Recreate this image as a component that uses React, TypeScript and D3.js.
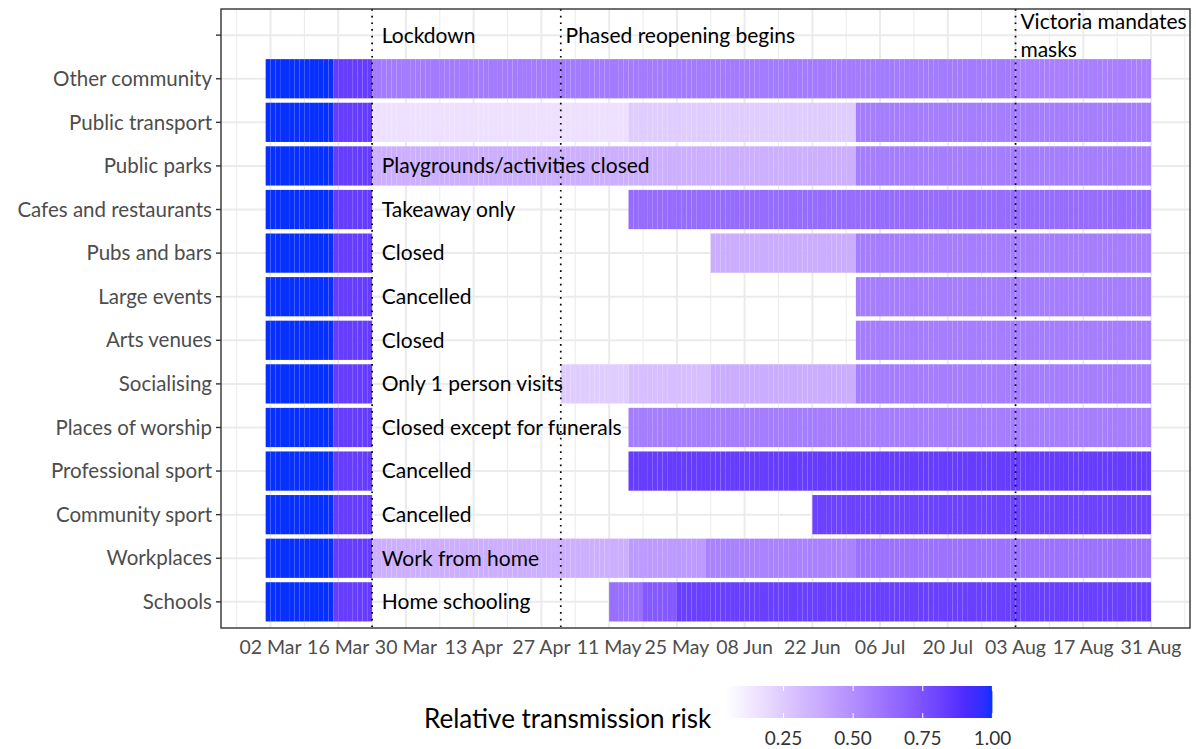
import * as d3 from "d3";

// rows, top to bottom; the blank first row holds the event labels
const categories = [
  "",
  "Other community",
  "Public transport",
  "Public parks",
  "Cafes and restaurants",
  "Pubs and bars",
  "Large events",
  "Arts venues",
  "Socialising",
  "Places of worship",
  "Professional sport",
  "Community sport",
  "Workplaces",
  "Schools"
];

type Step = [string, number | null];

// each row: date a level starts, relative transmission risk from then on (null = closed)
const otherCommunity: Step[] = [["2020-03-01", 1], ["2020-03-15", 0.83], ["2020-03-23", 0.58], ["2020-08-03", 0.56]];
const publicTransport: Step[] = [["2020-03-01", 1], ["2020-03-15", 0.83], ["2020-03-23", 0.16], ["2020-05-15", 0.24], ["2020-07-01", 0.57]];
const publicParks: Step[] = [["2020-03-01", 1], ["2020-03-15", 0.83], ["2020-03-23", 0.36], ["2020-07-01", 0.57]];
const cafes: Step[] = [["2020-03-01", 1], ["2020-03-15", 0.83], ["2020-03-23", null], ["2020-05-15", 0.64]];
const pubs: Step[] = [["2020-03-01", 1], ["2020-03-15", 0.83], ["2020-03-23", null], ["2020-06-01", 0.37], ["2020-07-01", 0.57]];
const largeEvents: Step[] = [["2020-03-01", 1], ["2020-03-15", 0.83], ["2020-03-23", null], ["2020-07-01", 0.57]];
const artsVenues: Step[] = [["2020-03-01", 1], ["2020-03-15", 0.83], ["2020-03-23", null], ["2020-07-01", 0.57]];
const socialising: Step[] = [["2020-03-01", 1], ["2020-03-15", 0.83], ["2020-03-23", null], ["2020-05-01", 0.24], ["2020-05-15", 0.3], ["2020-06-01", 0.37], ["2020-07-01", 0.57]];
const worship: Step[] = [["2020-03-01", 1], ["2020-03-15", 0.83], ["2020-03-23", null], ["2020-05-15", 0.57]];
const proSport: Step[] = [["2020-03-01", 1], ["2020-03-15", 0.83], ["2020-03-23", null], ["2020-05-15", 0.83]];
const communitySport: Step[] = [["2020-03-01", 1], ["2020-03-15", 0.83], ["2020-03-23", null], ["2020-06-22", 0.81]];
const workplaces: Step[] = [["2020-03-01", 1], ["2020-03-15", 0.83], ["2020-03-23", 0.36], ["2020-05-15", 0.45], ["2020-05-31", 0.55], ["2020-07-01", 0.62]];
const schools: Step[] = [["2020-03-01", 1], ["2020-03-15", 0.83], ["2020-03-23", null], ["2020-05-11", 0.63], ["2020-05-18", 0.72], ["2020-05-25", 0.82]];

const rowSteps: Step[][] = [
  [], otherCommunity, publicTransport, publicParks, cafes, pubs, largeEvents,
  artsVenues, socialising, worship, proSport, communitySport, workplaces, schools
];
const lastDay = "2020-08-31";

// notes written into the rows at the start of lockdown
const rowNotes = [
  "", "", "", "Playgrounds/activities closed", "Takeaway only", "Closed", "Cancelled",
  "Closed", "Only 1 person visits", "Closed except for funerals", "Cancelled",
  "Cancelled", "Work from home", "Home schooling"
];
const noteDate = "2020-03-25";

const eventDates = ["2020-03-23", "2020-05-01", "2020-08-03"];
const eventLabelDates = ["2020-03-25", "2020-05-02", "2020-08-04"];
const eventLabels = [["Lockdown"], ["Phased reopening begins"], ["Victoria mandates", "masks"]];

const tickDates = [
  "2020-03-02", "2020-03-16", "2020-03-30", "2020-04-13", "2020-04-27", "2020-05-11", "2020-05-25",
  "2020-06-08", "2020-06-22", "2020-07-06", "2020-07-20", "2020-08-03", "2020-08-17", "2020-08-31"
];

const legendMin = 0.04;
const legendTicks = [0.25, 0.5, 0.75, 1];

const W = 1196;
const H = 749;
const panel = { left: 221, right: 1190, top: 9, bottom: 628 };
const FONT = "Lato, 'Open Sans', sans-serif";

const parse = d3.utcParse("%Y-%m-%d");
const fmt = d3.utcFormat("%d %b");

export default function App() {
  const x = d3.scaleUtc()
    .domain([parse("2020-03-02")!, parse("2020-08-31")!])
    .range([270.5, 1151]);

  const y = d3.scalePoint<string>()
    .domain(categories)
    .range([panel.top, panel.bottom])
    .padding(0.6);
  const tileH = y.step() * 0.9;

  // white -> blue in Lab, with the top end a touch brighter as in the original
  const lab = d3.interpolateLab("#ffffff", "#0000ff");
  const knee = 0.9;
  const color = d3.scaleLinear<string>()
    .domain([legendMin, knee, 1])
    .range(["#ffffff", lab((knee - legendMin) / (1 - legendMin)), "#0730ff"])
    .interpolate(d3.interpolateLab);

  const legendX = d3.scaleLinear().domain([legendMin, 1]).range([725, 992.4]);
  const legendTop = 686;
  const legendH = 32;

  const majors = tickDates.map(d => parse(d)!);
  const minors = [d3.utcDay.offset(majors[0], -7), ...majors.map(d => d3.utcDay.offset(d, 7))];

  // one tile per day, like geom_tile
  const tiles: { x0: number; x1: number; y: number; fill: string; key: string }[] = [];
  rowSteps.forEach((steps, i) => {
    steps.forEach((s, j) => {
      if (s[1] === null) return;
      const start = parse(s[0])!;
      const end = parse(j + 1 < steps.length ? steps[j + 1][0] : lastDay)!;
      d3.utcDay.range(start, end).forEach(day => {
        tiles.push({
          x0: x(day),
          x1: x(d3.utcDay.offset(day, 1)),
          y: y(categories[i])!,
          fill: color(s[1] as number),
          key: `${i}-${+day}`
        });
      });
    });
  });

  const stops = d3.range(0, 1.0001, 0.025);

  return (
    <svg
      width={W}
      height={H}
      style={{ position: "absolute", left: 0, top: 0, background: "#fff" }}
      fontFamily={FONT}
    >
      <defs>
        <linearGradient id="risk" x1="0" x2="1" y1="0" y2="0">
          {stops.map(t => (
            <stop key={t} offset={t} stopColor={color(legendMin + t * (1 - legendMin))} />
          ))}
        </linearGradient>
      </defs>

      {/* grid */}
      {minors.map(d => (
        <line key={"mn" + +d} x1={x(d)} x2={x(d)} y1={panel.top} y2={panel.bottom} stroke="#ebebeb" strokeWidth={1} />
      ))}
      {majors.map(d => (
        <line key={"mj" + +d} x1={x(d)} x2={x(d)} y1={panel.top} y2={panel.bottom} stroke="#ebebeb" strokeWidth={2} />
      ))}
      {categories.map(c => (
        <line key={"h" + c} x1={panel.left} x2={panel.right} y1={y(c)} y2={y(c)} stroke="#ebebeb" strokeWidth={2} />
      ))}

      {/* tiles */}
      {tiles.map(t => (
        <rect key={t.key} x={t.x0} y={t.y - tileH / 2} width={t.x1 - t.x0} height={tileH} fill={t.fill} />
      ))}

      {/* row notes */}
      {rowNotes.map((n, i) => n && (
        <text key={"n" + i} x={x(parse(noteDate)!)} y={y(categories[i])} dy="0.35em" fontSize={21} fill="#000">
          {n}
        </text>
      ))}

      {/* events */}
      {eventDates.map((d, i) => (
        <g key={"e" + i}>
          <line x1={x(parse(d)!)} x2={x(parse(d)!)} y1={panel.top} y2={panel.bottom}
            stroke="#000" strokeWidth={1.7} strokeDasharray="1.7 5" />
          {eventLabels[i].map((l, k, arr) => (
            <text key={k} x={x(parse(eventLabelDates[i])!)} y={y("")! + (k - (arr.length - 1) / 2) * 28}
              dy="0.35em" fontSize={21} fill="#000">
              {l}
            </text>
          ))}
        </g>
      ))}

      {/* panel border */}
      <rect x={panel.left} y={panel.top} width={panel.right - panel.left} height={panel.bottom - panel.top}
        fill="none" stroke="#333" strokeWidth={1.4} />

      {/* y axis */}
      {categories.map(c => (
        <g key={"y" + c} transform={`translate(0,${y(c)})`}>
          <line x1={panel.left - 5} x2={panel.left} stroke="#333" strokeWidth={1.4} />
          <text x={panel.left - 9} dy="0.35em" textAnchor="end" fontSize={20.5} fill="#4d4d4d">{c}</text>
        </g>
      ))}

      {/* x axis */}
      {majors.map(d => (
        <text key={"x" + +d} x={x(d)} y={647} dy="0.35em" textAnchor="middle" fontSize={19.5} fill="#4d4d4d">
          {fmt(d)}
        </text>
      ))}

      {/* legend */}
      <text x={424} y={719} dy="0.35em" fontSize={26} fill="#000">Relative transmission risk</text>
      <rect x={legendX(legendMin)} y={legendTop} width={legendX(1) - legendX(legendMin)} height={legendH} fill="url(#risk)" />
      {legendTicks.map(t => (
        <g key={"lt" + t}>
          <line x1={legendX(t)} x2={legendX(t)} y1={legendTop} y2={legendTop + 5} stroke="#fff" strokeWidth={1} />
          <line x1={legendX(t)} x2={legendX(t)} y1={legendTop + legendH - 5} y2={legendTop + legendH} stroke="#fff" strokeWidth={1} />
          <text x={legendX(t)} y={738} dy="0.35em" textAnchor="middle" fontSize={19} fill="#333">
            {t.toFixed(2)}
          </text>
        </g>
      ))}
    </svg>
  );
}
